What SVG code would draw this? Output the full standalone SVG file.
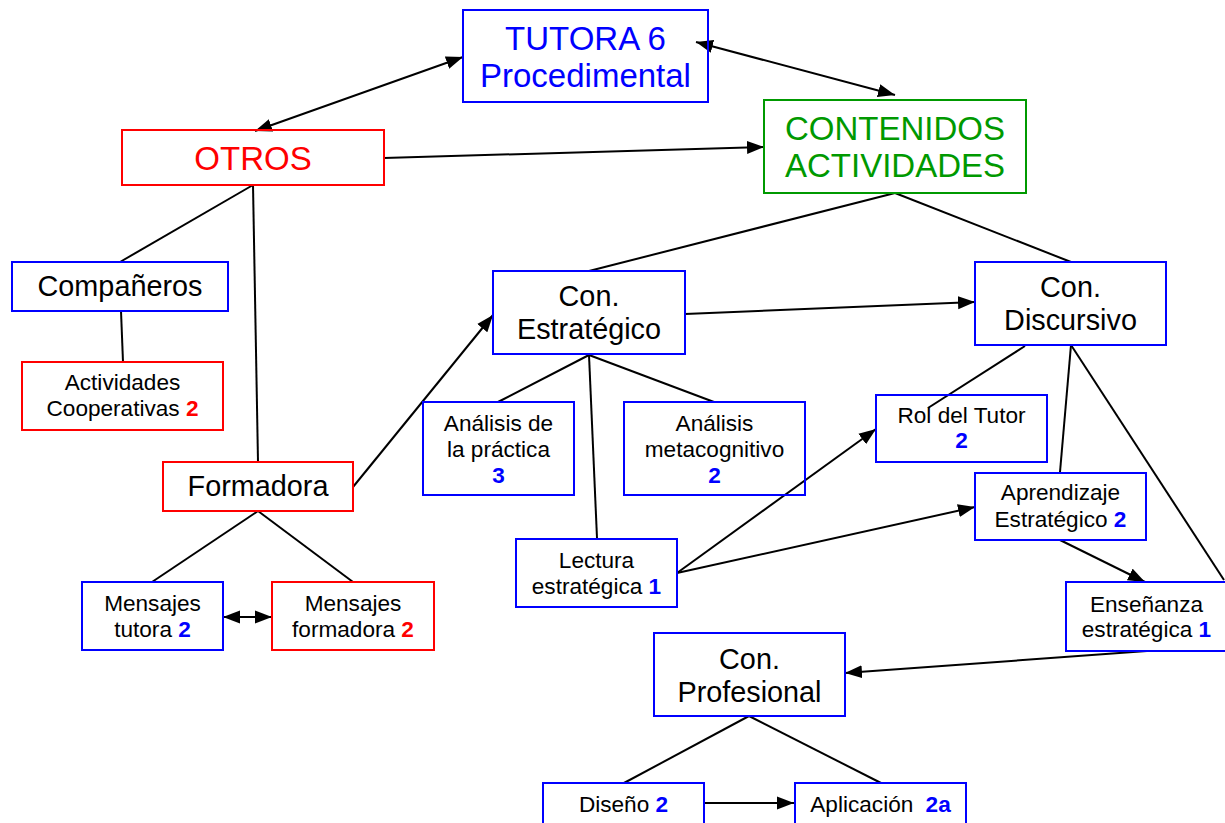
<svg xmlns="http://www.w3.org/2000/svg" width="1225" height="823" viewBox="0 0 1225 823">
  <defs>
    <marker id="arrow" markerUnits="userSpaceOnUse" markerWidth="18" markerHeight="14" refX="17" refY="7" orient="auto-start-reverse">
      <path d="M0,0.5 L17,7 L0,13.5 z" fill="#000"/>
    </marker>
  </defs>
  <style>
    text { font-family: "Liberation Sans", Arial, sans-serif; text-anchor: middle; fill: #000; }
    .big { font-size: 33px; }
    .mid { font-size: 28.8px; }
    .sm { font-size: 22.6px; }
    .blue { fill: none; stroke: #0000ff; stroke-width: 2; }
    .red { fill: none; stroke: #ff0000; stroke-width: 2; }
    .green { fill: none; stroke: #009900; stroke-width: 2; }
    .tb { fill: #0000ff; }
    .tr { fill: #ff0000; }
    .tg { fill: #009900; }
    .nb { fill: #0000ff; font-weight: bold; }
    .nr { fill: #ff0000; font-weight: bold; }
    #connectors line { stroke: #000; stroke-width: 2; fill: none; }
    .a { marker-end: url(#arrow); }
    .aa { marker-start: url(#arrow); marker-end: url(#arrow); }
  </style>
  <rect width="1225" height="823" fill="#fff"/>

  <g id="connectors">
    <line class="aa" x1="255" y1="131" x2="463" y2="57"/>
    <line class="aa" x1="696" y1="42" x2="895" y2="95"/>
    <line class="a" x1="384" y1="158" x2="764" y2="147"/>
    <line x1="895" y1="193" x2="589" y2="271"/>
    <line x1="895" y1="193" x2="1071" y2="262"/>
    <line x1="253" y1="185" x2="120" y2="262"/>
    <line x1="253" y1="185" x2="258" y2="462"/>
    <line x1="121" y1="311" x2="123" y2="362"/>
    <line x1="258" y1="511" x2="152" y2="582"/>
    <line x1="258" y1="511" x2="353" y2="582"/>
    <line class="a" x1="353" y1="487" x2="493" y2="315"/>
    <line class="a" x1="685" y1="314" x2="975" y2="302"/>
    <line x1="589" y1="355" x2="498" y2="402"/>
    <line x1="589" y1="355" x2="714" y2="402"/>
    <line x1="589" y1="355" x2="597" y2="538"/>
    <line x1="1025" y1="346" x2="928" y2="408"/>
    <line x1="1071" y1="345" x2="1060" y2="472"/>
    <line x1="1071" y1="345" x2="1224" y2="580"/>
    <line class="a" x1="677" y1="573" x2="876" y2="429"/>
    <line class="a" x1="677" y1="573" x2="975" y2="507"/>
    <line class="a" x1="1060" y1="540" x2="1145" y2="582"/>
    <line class="a" x1="1147" y1="651" x2="845" y2="673"/>
    <line x1="749" y1="716" x2="624" y2="783"/>
    <line x1="749" y1="716" x2="881" y2="783"/>
    <line class="a" x1="704" y1="803" x2="794" y2="803"/>
    <line class="aa" x1="223" y1="617" x2="272" y2="617"/>
  </g>

  <g id="tutora">
    <rect class="blue" x="463" y="10" width="245" height="92"/>
    <text class="big tb" x="585.5" y="50">TUTORA 6</text>
    <text class="big tb" x="585.5" y="87">Procedimental</text>
  </g>

  <g id="otros">
    <rect class="red" x="122" y="130" width="262" height="55"/>
    <text class="big tr" x="253" y="170">OTROS</text>
  </g>

  <g id="contenidos">
    <rect class="green" x="764" y="100" width="262" height="93"/>
    <text class="big tg" x="895" y="140">CONTENIDOS</text>
    <text class="big tg" x="895" y="177">ACTIVIDADES</text>
  </g>

  <g id="companeros">
    <rect class="blue" x="12" y="262" width="216" height="49"/>
    <text class="mid" x="120" y="296">Compañeros</text>
  </g>

  <g id="actividades-cooperativas">
    <rect class="red" x="22" y="362" width="201" height="68"/>
    <text class="sm" x="122.5" y="390">Actividades</text>
    <text class="sm" x="122.5" y="416">Cooperativas <tspan class="nr">2</tspan></text>
  </g>

  <g id="formadora">
    <rect class="red" x="163" y="462" width="190" height="49"/>
    <text class="mid" x="258" y="496">Formadora</text>
  </g>

  <g id="mensajes-tutora">
    <rect class="blue" x="82" y="582" width="141" height="68"/>
    <text class="sm" x="152.5" y="611">Mensajes</text>
    <text class="sm" x="152.5" y="637">tutora <tspan class="nb">2</tspan></text>
  </g>

  <g id="mensajes-formadora">
    <rect class="red" x="272" y="582" width="162" height="68"/>
    <text class="sm" x="353" y="611">Mensajes</text>
    <text class="sm" x="353" y="637">formadora <tspan class="nr">2</tspan></text>
  </g>

  <g id="con-estrategico">
    <rect class="blue" x="493" y="271" width="192" height="83"/>
    <text class="mid" x="589" y="306">Con.</text>
    <text class="mid" x="589" y="339">Estratégico</text>
  </g>

  <g id="con-discursivo">
    <rect class="blue" x="975" y="262" width="191" height="83"/>
    <text class="mid" x="1070.5" y="297">Con.</text>
    <text class="mid" x="1070.5" y="330">Discursivo</text>
  </g>

  <g id="analisis-practica">
    <rect class="blue" x="423" y="402" width="151" height="93"/>
    <text class="sm" x="498.5" y="431">Análisis de</text>
    <text class="sm" x="498.5" y="457">la práctica</text>
    <text class="sm nb" x="498.5" y="483">3</text>
  </g>

  <g id="analisis-metacognitivo">
    <rect class="blue" x="624" y="402" width="181" height="93"/>
    <text class="sm" x="714.5" y="431">Análisis</text>
    <text class="sm" x="714.5" y="457">metacognitivo</text>
    <text class="sm nb" x="714.5" y="483">2</text>
  </g>

  <g id="lectura-estrategica">
    <rect class="blue" x="516" y="539" width="161" height="68"/>
    <text class="sm" x="596.5" y="568">Lectura</text>
    <text class="sm" x="596.5" y="594">estratégica <tspan class="nb">1</tspan></text>
  </g>

  <g id="rol-tutor">
    <rect class="blue" x="876" y="395" width="171" height="67"/>
    <text class="sm" x="961.5" y="423">Rol del Tutor</text>
    <text class="sm nb" x="961.5" y="448">2</text>
  </g>

  <g id="aprendizaje-estrategico">
    <rect class="blue" x="975" y="473" width="171" height="67"/>
    <text class="sm" x="1060.5" y="500">Aprendizaje</text>
    <text class="sm" x="1060.5" y="527">Estratégico <tspan class="nb">2</tspan></text>
  </g>

  <g id="ensenanza-estrategica">
    <rect class="blue" x="1066" y="582" width="161" height="69"/>
    <text class="sm" x="1146.5" y="612">Enseñanza</text>
    <text class="sm" x="1146.5" y="637">estratégica <tspan class="nb">1</tspan></text>
  </g>

  <g id="con-profesional">
    <rect class="blue" x="654" y="633" width="191" height="83"/>
    <text class="mid" x="749.5" y="669">Con.</text>
    <text class="mid" x="749.5" y="702">Profesional</text>
  </g>

  <g id="diseno">
    <rect class="blue" x="543" y="783" width="161" height="50"/>
    <text class="sm" x="623.5" y="812">Diseño <tspan class="nb">2</tspan></text>
  </g>

  <g id="aplicacion">
    <rect class="blue" x="795" y="783" width="171" height="50"/>
    <text class="sm" x="880.5" y="812">Aplicación <tspan class="nb" dx="6">2a</tspan></text>
  </g>
</svg>
